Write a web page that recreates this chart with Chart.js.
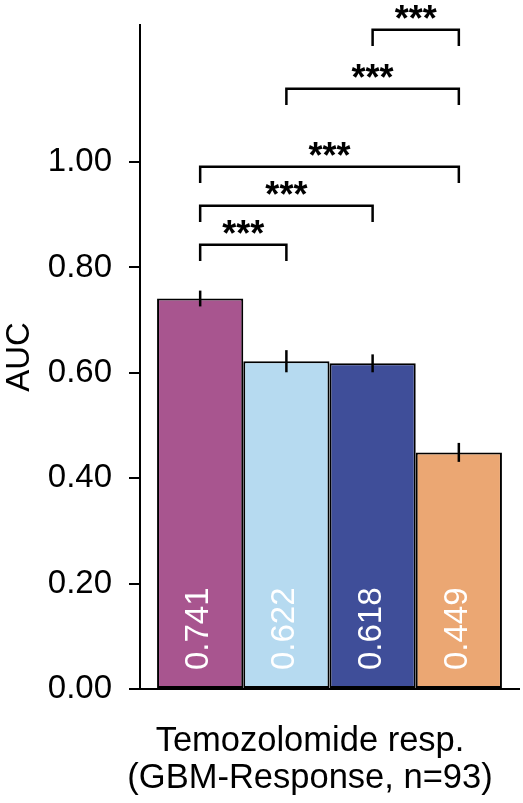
<!DOCTYPE html>
<html lang="en">
<head>
<meta charset="UTF-8">
<title>AUC - Temozolomide response</title>
<style>
  html,body{margin:0;padding:0;background:#fff;overflow:hidden}
  #wrap{width:523px;height:803px;position:relative}
  canvas{display:block}
</style>
</head>
<body>
<div id="wrap"><canvas id="auc"></canvas></div>
<script src="https://cdn.jsdelivr.net/npm/chart.js"></script>
<script>
// one cohort, four predictors
const cohortLabel = ['Temozolomide resp.', '(GBM-Response, n=93)']
const models = ['Model 1', 'Model 2', 'Model 3', 'Model 4']
const aucValues = [0.741, 0.622, 0.618, 0.449]
const aucErrors = [0.015, 0.021, 0.017, 0.018]
const yTicks = [0, 0.2, 0.4, 0.6, 0.8, 1.0]

// pairwise tests: [from bar, to bar], bracket height (AUC units), label
const pairs = [[0, 1], [0, 2], [0, 3], [1, 3], [2, 3]]
const pairLevels = [0.843, 0.917, 0.991, 1.139, 1.251]
const pairLabels = ['***', '***', '***', '***', '***']

const colors = ['#A8558F', '#B6DAF0', '#3F4E99', '#EBA773']
const FONT = '"Liberation Sans", Arial, Helvetica, sans-serif'

const overlay = {
  id: 'overlay',
  afterDatasetsDraw(chart) {
    const c = chart.ctx
    const y = chart.scales.y
    const bars = models.map((m, i) => chart.getDatasetMeta(i).data[0])
    c.save()
    c.strokeStyle = '#000'
    c.lineWidth = 2.5
    // error bars
    bars.forEach((b, i) => {
      c.beginPath()
      c.moveTo(b.x, y.getPixelForValue(aucValues[i] + aucErrors[i]))
      c.lineTo(b.x, y.getPixelForValue(aucValues[i] - aucErrors[i]))
      c.stroke()
    })
    // value labels, rotated, inside bars
    c.fillStyle = '#fff'
    c.font = '33px ' + FONT
    c.textAlign = 'left'
    c.textBaseline = 'middle'
    bars.forEach((b, i) => {
      c.save()
      c.translate(b.x - 1, y.getPixelForValue(0) - 19)
      c.rotate(-Math.PI / 2)
      c.fillText(aucValues[i].toFixed(3), 0, 0)
      c.restore()
    })
    // significance brackets
    c.fillStyle = '#000'
    c.font = 'bold 36px ' + FONT
    c.textAlign = 'center'
    c.textBaseline = 'alphabetic'
    pairs.forEach((p, k) => {
      const x1 = bars[p[0]].x, x2 = bars[p[1]].x
      const top = y.getPixelForValue(pairLevels[k])
      const leg = y.getPixelForValue(pairLevels[k] - 0.031)
      c.beginPath()
      c.moveTo(x1, leg)
      c.lineTo(x1, top)
      c.lineTo(x2, top)
      c.lineTo(x2, leg)
      c.stroke()
      c.fillText(pairLabels[k], (x1 + x2) / 2, top + 1)
    })
    c.restore()
  }
}

new Chart(document.getElementById('auc'), {
  type: 'bar',
  data: {
    labels: [cohortLabel],
    datasets: models.map((m, i) => ({
      label: m,
      data: [aucValues[i]],
      backgroundColor: colors[i],
      borderColor: '#000',
      borderWidth: 2,
      borderSkipped: false
    }))
  },
  options: {
    responsive: true,
    maintainAspectRatio: false,
    animation: false,
    layout: { padding: { top: 25, right: 4, left: 0, bottom: 0 } },
    datasets: { bar: { categoryPercentage: 0.91, barPercentage: 1 } },
    plugins: { legend: { display: false }, tooltip: { enabled: false } },
    scales: {
      x: {
        grid: { display: false, drawTicks: false },
        border: { display: true, color: '#000', width: 2 },
        ticks: {
          color: '#000',
          font: { family: FONT, size: 34.5, lineHeight: 1.07 },
          padding: 34,
          labelOffset: -19.5,
          maxRotation: 0
        },
        afterFit(s) {
          s.height = 114
          s.paddingLeft = 0
          s.paddingRight = 0
        }
      },
      y: {
        min: 0,
        max: 1.26,
        afterBuildTicks(s) { s.ticks = yTicks.map(v => ({ value: v })) },
        grid: { drawOnChartArea: false, drawTicks: true, tickLength: 11, color: '#000', lineWidth: 2 },
        border: { display: true, color: '#000', width: 2 },
        ticks: {
          color: '#000',
          padding: 17,
          font: { family: FONT, size: 33 },
          callback: v => v.toFixed(2)
        },
        title: {
          display: true,
          text: 'AUC',
          color: '#000',
          font: { family: FONT, size: 33 },
          padding: { top: 0, bottom: 0 }
        },
        afterFit(s) {
          s.width = 140
          s.paddingTop = 0
          s.paddingBottom = 0
        }
      }
    }
  },
  plugins: [overlay]
})
</script>
</body>
</html>
